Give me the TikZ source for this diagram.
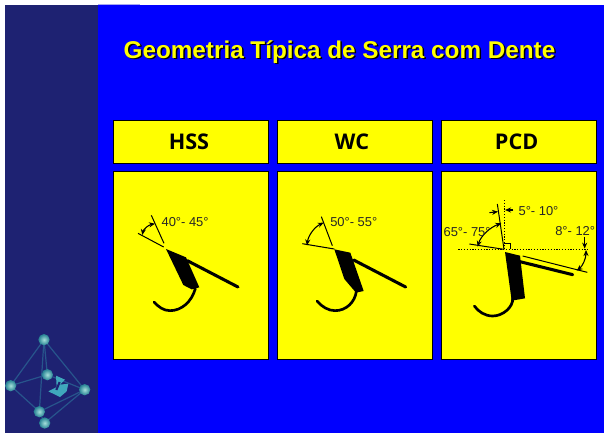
\documentclass[tikz,border=0pt]{standalone}
\usepackage{fontspec}
\setmainfont{Liberation Sans}
\newfontfamily\hdrfont{Open Sans}
\usetikzlibrary{arrows.meta}
\definecolor{navy}{HTML}{1E2272}
\definecolor{purered}{HTML}{0000FF}
\definecolor{yel}{HTML}{FFFF00}
\definecolor{edgeblue}{HTML}{27558C}
\definecolor{ballin}{HTML}{A5E0DA}
\definecolor{ballout}{HTML}{237F92}
\definecolor{swirl}{HTML}{3FA8BC}
\tikzset{
  x=0.75pt,y=-0.75pt,
  panel/.style={draw=black,fill=yel,line width=0.7pt,rectangle,outer sep=0pt},
  hdrtext/.style={font=\hdrfont\bfseries\fontsize{16.2}{19}\selectfont,text=black,inner sep=0},
  anglabel/.style={font=\fontsize{9.7}{11}\selectfont,text=black!85,inner sep=0,anchor=west},
  thin line/.style={line width=0.75pt,draw=black},
  arcline/.style={line width=0.8pt,draw=black,{Stealth[length=4.5pt,width=3.8pt]}-{Stealth[length=4.5pt,width=3.8pt]}},
  onearrow/.style={line width=0.8pt,draw=black,-{Stealth[length=4.5pt,width=3.8pt]}},
  land/.style={line width=2.3pt,draw=black,line cap=round},
  gullet/.style={line width=2pt,draw=black,line cap=round},
  dotline/.style={line width=0.75pt,draw=black,dash pattern=on 0.9pt off 1.2pt},
  crystaledge/.style={line width=0.9pt,draw=edgeblue},
  ball/.style={circle,minimum size=8.5pt,inner sep=0,inner color=ballin,outer color=ballout},
  titletext/.style={font=\bfseries\fontsize{18.2}{21}\selectfont,inner sep=0}
}
\begin{document}
\begin{tikzpicture}
\useasboundingbox (0,0) rectangle (605,433);
\fill[white] (0,0) rectangle (605,433);
\fill[navy] (5,5) rectangle (97.5,433);
\fill[purered] (97.5,5) rectangle (604,433);
\fill[black!15!purered!35!white] (97.5,4) rectangle (140,5);
% title
\node[titletext,text=black] (titleshadow) at (341,53.5) {Geometria Típica de Serra com Dente};
\node[titletext,text=yel] (title) at (339.5,52) {Geometria Típica de Serra com Dente};
% headers
\node[panel,minimum width=116.2pt,minimum height=32pt,anchor=north west] (h1) at (113.5,120.5) {};
\node[panel,minimum width=116.2pt,minimum height=32pt,anchor=north west] (h2) at (277.8,120.5) {};
\node[panel,minimum width=116.2pt,minimum height=32pt,anchor=north west] (h3) at (441.8,120.5) {};
\node[hdrtext] (t1) at ([xshift=-1.5pt]h1.center) {HSS};
\node[hdrtext] (t2) at ([xshift=-2.5pt]h2.center) {WC};
\node[hdrtext] (t3) at ([xshift=-2pt]h3.center) {PCD};
% panels
\node[panel,minimum width=116.2pt,minimum height=141pt,anchor=north west] (p1) at (113.5,171.5) {};
\node[panel,minimum width=116.2pt,minimum height=141pt,anchor=north west] (p2) at (277.8,171.5) {};
\node[panel,minimum width=116.2pt,minimum height=141pt,anchor=north west] (p3) at (441.8,171.5) {};
% HSS
\begin{scope}[shift={(110,170)},x=0.25pt,y=-0.25pt]
\fill[black] (168,237) -- (228,262) -- (268,352) -- (245,358) -- (220,345) -- cycle;
\draw[land] (232,272) -- (384,351);
\draw[gullet] (256,356) .. controls (245,395) and (215,422) .. (180,422) .. controls (160,422) and (145,410) .. (132,396);
\draw[thin line] (124,136) -- (162,220);
\draw[thin line] (84,190) -- (161,231);
\draw[arcline] (97,195) .. controls (100,178) and (115,165) .. (135,161);
\node[anglabel] (a1) at (154,155) {40°- 45°};
\end{scope}
% WC
\begin{scope}[shift={(275,170)},x=0.25pt,y=-0.25pt]
\fill[black] (178,238) -- (226,248) -- (266,363) -- (243,368) -- (208,327) -- cycle;
\draw[land] (236,270) -- (392,351);
\draw[gullet] (244,364) .. controls (240,395) and (215,422) .. (180,422) .. controls (160,422) and (140,410) .. (126,393);
\draw[thin line] (139,140) -- (172,227);
\draw[thin line] (82,221) -- (178,237);
\draw[arcline] (96,226) .. controls (100,195) and (120,170) .. (146,158);
\node[anglabel] (a2) at (165,155) {50°- 55°};
\end{scope}
% PCD
\begin{scope}[shift={(440,190)},x=0.25pt,y=-0.25pt]
\fill[black] (195,186) -- (240,197) -- (255,325) -- (215,332) -- cycle;
\draw[land] (240,215) -- (398,254);
\draw[gullet] (218,325) .. controls (220,350) and (190,378) .. (158,378) .. controls (135,378) and (115,365) .. (103,348);
\draw[dotline] (55,178) -- (447,178);
\draw[dotline] (193,30) -- (193,178);
\draw[thin line] (172,42) -- (192,178);
\draw[thin line] (88,162) -- (192,178);
\draw[line width=0.5pt] (193,160) -- (212,160) -- (212,178);
\draw[thin line] (248,198) -- (442,247);
\draw[arcline] (184,100) .. controls (150,112) and (122,138) .. (113,170);
\draw[onearrow] (148,68) -- (174,65);
\draw[onearrow] (220,60) -- (195,60);
\draw[onearrow] (434,140) -- (434,176);
\draw[arcline] (438,180) .. controls (438,205) and (428,228) .. (410,242);
\node[anglabel] (a3) at (235,62) {5°- 10°};
\node[anglabel] (a4) at (10,126) {65°- 75°};
\node[anglabel] (a5) at (345,122) {8°- 12°};
\end{scope}
% crystal
\begin{scope}[shift={(0,323)},x=0.25pt,y=-0.25pt]
\coordinate (top) at (132,50);
\coordinate (mid) at (142,155);
\coordinate (lft) at (32,188);
\coordinate (rgt) at (254,200);
\coordinate (frt) at (118,266);
\coordinate (bot) at (134,300);
\draw[crystaledge] (top) -- (lft) -- (frt) -- (rgt) -- (top) -- (frt);
\draw[crystaledge] (top) -- (mid) -- (rgt);
\draw[crystaledge] (lft) -- (mid);
\draw[crystaledge] (frt) -- (bot) -- (rgt);
\fill[swirl] (168,158) -- (195,170) -- (180,185) -- (205,182) -- (200,205) -- (180,222) -- (145,205) -- (170,192) -- cycle;
\fill[navy] (176,176) -- (182,178) -- (172,202) -- (166,200) -- cycle;
\node[ball] (b1) at (top) {};
\node[ball] (b2) at (mid) {};
\node[ball] (b3) at (lft) {};
\node[ball] (b4) at (rgt) {};
\node[ball] (b5) at (frt) {};
\node[ball] (b6) at (bot) {};
\end{scope}
\end{tikzpicture}
\end{document}
